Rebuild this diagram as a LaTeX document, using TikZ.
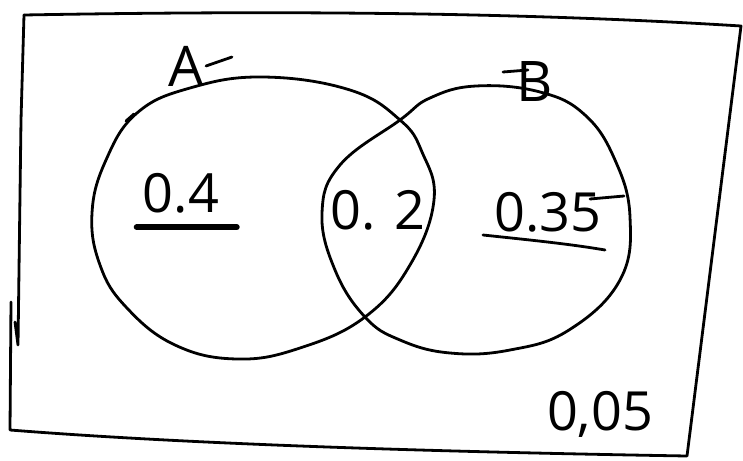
\documentclass[tikz,border=0pt]{standalone}
\usepackage{fontspec}
\setmainfont{Open Sans}
\begin{document}
\begin{tikzpicture}[x=1pt,y=-1pt,
  pen/.style={line width=2.8pt,line cap=round,line join=round,black},
  num/.style={font=\fontsize{54}{54}\selectfont,inner sep=0pt,anchor=center},
  lbl/.style={font=\fontsize{56}{56}\selectfont,inner sep=0pt,anchor=center}]
\useasboundingbox (0,0) rectangle (743,460);
% frame
\coordinate (tl) at (24,15);
\coordinate (tr) at (741,26);
\coordinate (br) at (687,456);
\coordinate (bl) at (10,430);
\coordinate (lh) at (18,345);
\coordinate (lb) at (11,302);
\draw[pen] (tl) .. controls (250,11) and (500,11) .. (tr)
  -- (br) .. controls (450,452) and (200,445) .. (bl) -- (lb);
\draw[pen] (tl) -- (21,120) -- (lh) -- (15,322);
% circle A
\draw[pen] plot[smooth cycle,tension=0.7] coordinates
  {(434,200) (422,152) (400,120) (350,90) (263,77) (190,88) (137,113) (106,160) (92,213) (100,265) (126,307) (175,345) (237,359) (300,348) (365,317) (410,265)};
% circle B
\draw[pen] plot[smooth cycle,tension=0.7] coordinates
  {(476,86) (540,92) (585,115) (615,160) (630,217) (620,280) (569,330) (510,350) (450,353) (400,340) (365,317) (335,270) (322,213) (340,165) (400,120) (430,98)};
% stray mark
\draw[pen] (126,121) -- (134,114);
% labels
\node[lbl] (A) at (186,66) {A};
\draw[pen] (206,66) -- (232,57);
\node[lbl] (B) at (535,82) {B};
\draw[pen] (503,72) -- (528,70);
\node[num] (p04) at (181,193) {0.4};
\draw[line width=6pt,line cap=round] (p04.south west)++(-6,14) coordinate (u1) -- ++(100,0) coordinate (u2);
\node[num] (p02) at (378,210) {0.\,\,2};
\node[num] (p035) at (548,212) {0.35};
\draw[pen] (483,235) .. controls (530,240) and (570,244) .. (605,250);
\draw[pen] (590,199) -- (624,196);
\node[num] (p005) at (600,414) {0,05};
\end{tikzpicture}
\end{document}
